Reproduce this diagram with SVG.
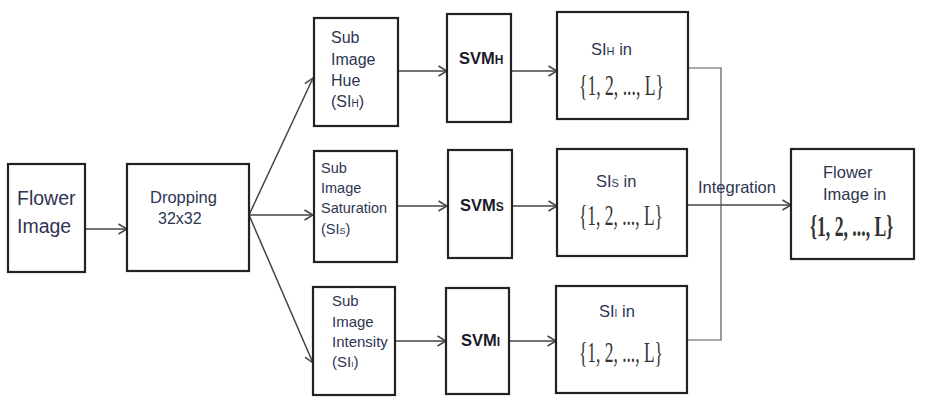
<svg xmlns="http://www.w3.org/2000/svg" width="926" height="401" viewBox="0 0 926 401">
<defs>
<marker id="arr" viewBox="0 0 10 12" refX="9.5" refY="6" markerWidth="10" markerHeight="12" markerUnits="userSpaceOnUse" orient="auto">
<polyline points="1,1 9.5,6 1,11" fill="none" stroke="#444" stroke-width="1.5"/>
</marker>
<style>
.box{fill:#fff;stroke:#222;stroke-width:2.2}
.t{font-family:"Liberation Sans",Arial,sans-serif;fill:#2e3552}
.b{font-family:"Liberation Sans",Arial,sans-serif;font-weight:bold;fill:#1a1a2a}
.m{font-family:"Liberation Serif","Times New Roman",serif;fill:#333;font-size:23px}
.c{fill:none;stroke:#444;stroke-width:1.5}
.i{fill:none;stroke:#555;stroke-width:1.2}
</style>
</defs>
<rect width="926" height="401" fill="#fff"/>
<g id="connectors">
<line class="c" x1="86" y1="229" x2="127" y2="229" marker-end="url(#arr)"/>
<line class="c" x1="249" y1="215" x2="313" y2="78" marker-end="url(#arr)"/>
<line class="c" x1="249" y1="215" x2="313" y2="215" marker-end="url(#arr)"/>
<line class="c" x1="249" y1="215" x2="313" y2="363" marker-end="url(#arr)"/>
<line class="c" x1="399" y1="71" x2="447" y2="71" marker-end="url(#arr)"/>
<line class="c" x1="512" y1="71" x2="557" y2="71" marker-end="url(#arr)"/>
<line class="c" x1="398" y1="206" x2="447" y2="206" marker-end="url(#arr)"/>
<line class="c" x1="513" y1="206" x2="557" y2="206" marker-end="url(#arr)"/>
<line class="c" x1="396" y1="341" x2="446" y2="341" marker-end="url(#arr)"/>
<line class="c" x1="510" y1="341" x2="556" y2="341" marker-end="url(#arr)"/>
<polyline class="i" points="688,68 721,68 721,340 687,340"/>
<line class="c" x1="687" y1="205" x2="791" y2="205" marker-end="url(#arr)"/>
<text class="t" x="698" y="193" font-size="16.5">Integration</text>
</g>
<g id="flower">
<rect class="box" x="8" y="164" width="77" height="108"/>
<text class="t" x="17" y="205" font-size="19.5">Flower</text>
<text class="t" x="17" y="233" font-size="19.5">Image</text>
</g>
<g id="dropping">
<rect class="box" x="127" y="164" width="122" height="107"/>
<text class="t" x="150" y="203" font-size="16.5">Dropping</text>
<text class="t" x="158" y="224" font-size="16">32x32</text>
</g>
<g id="subhue">
<rect class="box" x="314" y="18" width="84" height="108"/>
<text class="t" font-size="16"><tspan x="331" y="43">Sub</tspan><tspan x="331" y="65">Image</tspan><tspan x="331" y="86">Hue</tspan><tspan x="331" y="107">(SI<tspan font-size="10">H</tspan>)</tspan></text>
</g>
<g id="subsat">
<rect class="box" x="314" y="151" width="83" height="111"/>
<text class="t" font-size="14.5"><tspan x="321" y="173">Sub</tspan><tspan x="321" y="193">Image</tspan><tspan x="321" y="213">Saturation</tspan><tspan x="321" y="234">(SI<tspan font-size="9">S</tspan>)</tspan></text>
</g>
<g id="subint">
<rect class="box" x="313" y="287" width="82" height="108"/>
<text class="t" font-size="15"><tspan x="332" y="306">Sub</tspan><tspan x="332" y="327">Image</tspan><tspan x="332" y="347">Intensity</tspan><tspan x="332" y="367">(SI<tspan font-size="8">I</tspan>)</tspan></text>
</g>
<g id="svmh">
<rect class="box" x="447" y="14" width="64" height="108"/>
<text class="b" x="459" y="64" font-size="16.5">SVM<tspan font-size="12">H</tspan></text>
</g>
<g id="svms">
<rect class="box" x="448" y="150" width="64" height="108"/>
<text class="b" x="460" y="211" font-size="16.5">SVM<tspan font-size="12">S</tspan></text>
</g>
<g id="svmi">
<rect class="box" x="446" y="288" width="63" height="106"/>
<text class="b" x="461" y="346" font-size="16.5">SVM<tspan font-size="12">I</tspan></text>
</g>
<g id="resh">
<rect class="box" x="557" y="12" width="131" height="107"/>
<text class="t" x="591" y="55" font-size="16.5">SI<tspan font-size="11">H</tspan> in</text>
<text class="m" transform="matrix(0.766 0 0 1.26 579 95)">{1, 2, ..., L}</text>
</g>
<g id="ress">
<rect class="box" x="557" y="149" width="130" height="107"/>
<text class="t" x="596" y="187" font-size="16.5">SI<tspan font-size="11">S</tspan> in</text>
<text class="m" transform="matrix(0.757 0 0 1.26 579 225)">{1, 2, ..., L}</text>
</g>
<g id="resi">
<rect class="box" x="556" y="286" width="131" height="107"/>
<text class="t" x="599" y="317" font-size="16.5">SI<tspan font-size="10">I</tspan> in</text>
<text class="m" transform="matrix(0.757 0 0 1.26 579 362)">{1, 2, ..., L}</text>
</g>
<g id="final">
<rect class="box" x="791" y="149" width="123" height="110"/>
<text class="t" x="823" y="178" font-size="16.5">Flower</text>
<text class="t" x="823" y="200" font-size="16.5">Image in</text>
<text class="m" font-weight="bold" transform="matrix(0.77 0 0 1.26 810 236)">{1, 2, ..., L}</text>
</g>
</svg>
